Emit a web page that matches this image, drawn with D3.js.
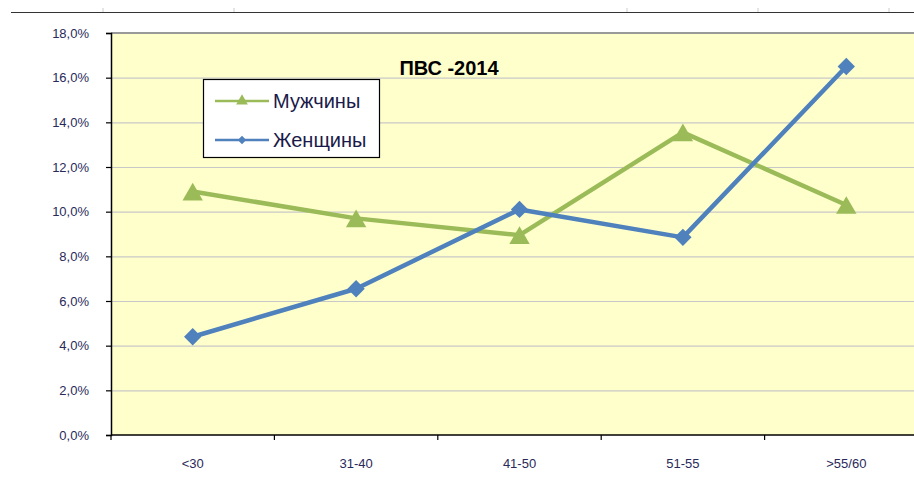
<!DOCTYPE html>
<html>
<head>
<meta charset="utf-8">
<script src="https://cdn.jsdelivr.net/npm/d3@7"></script>
<style>
  body { margin: 0; background: #fff; }
  svg { display: block; font-family: "Liberation Sans", Arial, sans-serif; }
</style>
</head>
<body>
<svg id="chart" width="914" height="481"></svg>
<script>
// Age groups and share of each group (%)
const categories = ['<30', '31-40', '41-50', '51-55', '>55/60'];
const men = [10.9, 9.7, 8.95, 13.55, 10.3];
const women = [4.4, 6.55, 10.1, 8.85, 16.5];
const yTicks = [0, 2, 4, 6, 8, 10, 12, 14, 16, 18];

const svg = d3.select('#chart');
const margin = { left: 111, top: 33, bottom: 435 };
const plotRight = 928;
const fontFam = '"Liberation Sans", Arial, sans-serif';

// top frame line left over from the chart above
svg.append('line')
    .attr('x1', 11).attr('x2', 914).attr('y1', 12.5).attr('y2', 12.5)
    .attr('stroke', '#333').attr('stroke-width', 1.2);
[103, 234, 627, 758, 889].forEach(x => {
    svg.append('line').attr('x1', x).attr('x2', x).attr('y1', 8).attr('y2', 12)
        .attr('stroke', '#ccc');
});

const x = d3.scaleBand()
    .domain(categories)
    .range([margin.left, plotRight]);

const y = d3.scaleLinear()
    .domain([0, 18])
    .range([margin.bottom, margin.top]);

// plot area
svg.append('rect')
    .attr('x', margin.left).attr('y', margin.top)
    .attr('width', plotRight - margin.left).attr('height', margin.bottom - margin.top)
    .attr('fill', '#ffffcc');

// gridlines
svg.append('g')
    .selectAll('line')
    .data(yTicks.filter(d => d > 0 && d < 18))
    .join('line')
    .attr('x1', margin.left).attr('x2', plotRight)
    .attr('y1', d => y(d) + 0.5).attr('y2', d => y(d) + 0.5)
    .attr('stroke', '#c8c8c8').attr('stroke-width', 1.2);

// top border of plot area
svg.append('line')
    .attr('x1', margin.left).attr('x2', plotRight)
    .attr('y1', margin.top).attr('y2', margin.top)
    .attr('stroke', '#999').attr('stroke-width', 2);

// Y axis
const yAxis = svg.append('g')
    .attr('transform', `translate(${margin.left},0)`)
    .call(d3.axisLeft(y).tickValues(yTicks).tickSize(5).tickPadding(17)
        .tickFormat(d => d.toFixed(1).replace('.', ',') + '%'));
yAxis.select('.domain').attr('stroke', '#000').attr('stroke-width', 1.5);
yAxis.selectAll('.tick line').attr('stroke', '#000').attr('stroke-width', 1.2);
yAxis.selectAll('text').attr('font-size', 13).attr('fill', '#2a2a5a')
    .attr('font-family', fontFam);

// X axis (ticks between categories)
const xAxis = svg.append('g')
    .attr('transform', `translate(0,${margin.bottom})`)
    .call(d3.axisBottom(x).tickSize(0).tickPadding(24));
xAxis.select('.domain').remove();
xAxis.selectAll('text').attr('font-size', 13).attr('fill', '#2a2a5a')
    .attr('font-family', fontFam);
svg.append('line')
    .attr('x1', margin.left).attr('x2', plotRight)
    .attr('y1', margin.bottom).attr('y2', margin.bottom)
    .attr('stroke', '#000').attr('stroke-width', 1.5);
svg.append('g')
    .selectAll('line')
    .data(categories)
    .join('line')
    .attr('x1', d => x(d)).attr('x2', d => x(d))
    .attr('y1', margin.bottom).attr('y2', margin.bottom + 5)
    .attr('stroke', '#000').attr('stroke-width', 1.2);

const cx = d => x(d) + x.bandwidth() / 2;
const line = d3.line().x((d, i) => cx(categories[i])).y(d => y(d));

const green = '#9bbb59';
const blue = '#4f81bd';

// Men series
svg.append('path')
    .datum(men)
    .attr('d', line)
    .attr('fill', 'none').attr('stroke', green).attr('stroke-width', 4.5)
    .attr('stroke-linejoin', 'round');
const tri = d3.symbol().type(d3.symbolTriangle).size(180);
svg.append('g')
    .selectAll('path')
    .data(men)
    .join('path')
    .attr('transform', (d, i) => `translate(${cx(categories[i])},${y(d) + 3})`)
    .attr('d', tri)
    .attr('fill', green);

// Women series
svg.append('path')
    .datum(women)
    .attr('d', line)
    .attr('fill', 'none').attr('stroke', blue).attr('stroke-width', 4.5)
    .attr('stroke-linejoin', 'round');
const diamond = d3.symbol().type(d3.symbolSquare).size(150);
svg.append('g')
    .selectAll('path')
    .data(women)
    .join('path')
    .attr('transform', (d, i) => `translate(${cx(categories[i])},${y(d)}) rotate(45)`)
    .attr('d', diamond)
    .attr('fill', blue);

// Title
svg.append('text')
    .attr('x', 449).attr('y', 75)
    .attr('text-anchor', 'middle')
    .attr('font-size', 20).attr('font-weight', 'bold')
    .text('ПВС -2014');

// Legend
const legend = svg.append('g').attr('transform', 'translate(203,79)');
legend.append('rect')
    .attr('x', 0.5).attr('y', 0.5).attr('width', 176).attr('height', 78)
    .attr('fill', '#fff').attr('stroke', '#000').attr('stroke-width', 1.2);
const legendItems = [
    { name: 'Мужчины', color: green, symbol: d3.symbol().type(d3.symbolTriangle).size(60), rot: 0 },
    { name: 'Женщины', color: blue, symbol: d3.symbol().type(d3.symbolSquare).size(35), rot: 45 }
];
legendItems.forEach((item, i) => {
    const g = legend.append('g').attr('transform', `translate(0,${22 + i * 39})`);
    g.append('line').attr('x1', 12).attr('x2', 66).attr('y1', 0).attr('y2', 0)
        .attr('stroke', item.color).attr('stroke-width', 2.5);
    g.append('path').attr('d', item.symbol)
        .attr('transform', `translate(39,0) rotate(${item.rot})`)
        .attr('fill', item.color);
    g.append('text').attr('x', 70).attr('y', 0).attr('dy', '0.35em')
        .attr('font-size', 20).attr('fill', '#1a1a4a')
        .text(item.name);
});
</script>
</body>
</html>
